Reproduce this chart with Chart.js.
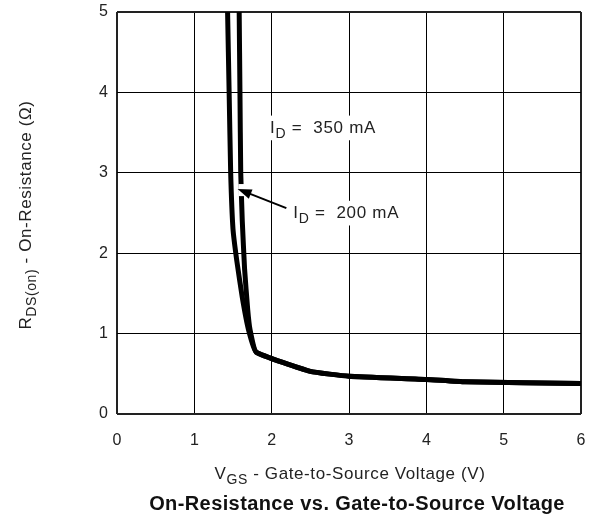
<!DOCTYPE html>
<html>
<head>
<meta charset="utf-8">
<script src="https://cdn.jsdelivr.net/npm/chart.js@4.4.1/dist/chart.umd.min.js"></script>
<style>
    html, body { margin: 0; padding: 0; background: #fff; }
    #wrap { width: 600px; height: 520px; }
</style>
</head>
<body>
<div id="wrap"><canvas id="rdsChart"></canvas></div>
<script>
// values
const xTicks = [0, 1, 2, 3, 4, 5, 6];
const yTicks = [0, 1, 2, 3, 4, 5];

const vgs200 = [1.43, 1.45, 1.47, 1.50, 1.55, 1.62, 1.70, 1.80, 2.50, 3.00, 4.00, 4.50, 6.00];
const rds200 = [5.00, 4.00, 3.00, 2.30, 1.90, 1.45, 1.05, 0.77, 0.53, 0.47, 0.43, 0.40, 0.38];

const vgs350 = [1.58, 1.59, 1.60, 1.62, 1.65, 1.69, 1.72, 1.80, 2.50, 3.00, 4.00, 4.50, 6.00];
const rds350 = [5.00, 4.00, 3.00, 2.40, 1.80, 1.30, 1.05, 0.77, 0.53, 0.47, 0.43, 0.40, 0.38];

const FONT = "'Liberation Sans', Arial, Helvetica, sans-serif";

function toPoints(xs, ys) {
    return xs.map((x, i) => ({ x: x, y: ys[i] }));
}

// draw text with subscript pieces: parts = [[text, isSub], ...]
function drawRich(ctx, parts, x, y, size, align, spacing, bg) {
    ctx.save();
    ctx.textBaseline = "alphabetic";
    ctx.textAlign = "left";
    ctx.letterSpacing = (spacing || 0) + "px";
    const subSize = Math.round(size * 0.8);
    let total = 0;
    parts.forEach(p => {
        ctx.font = (p[1] ? subSize : size) + "px " + FONT;
        total += ctx.measureText(p[0]).width;
    });
    let cx = align === "center" ? x - total / 2 : x;
    if (bg) {
        ctx.fillStyle = "#fff";
        ctx.fillRect(cx - 3, y - size, total + 6, size * 1.45);
    }
    ctx.fillStyle = "#222";
    parts.forEach(p => {
        ctx.font = (p[1] ? subSize : size) + "px " + FONT;
        ctx.fillText(p[0], cx, p[1] ? y + size * 0.3 : y);
        cx += ctx.measureText(p[0]).width;
    });
    ctx.restore();
}

const labelsPlugin = {
    id: "labels",
    afterDatasetsDraw(chart) {
        const ctx = chart.ctx;
        const xs = chart.scales.x, ys = chart.scales.y;

        // small white break in the 350 mA curve where the arrow points
        ctx.save();
        ctx.fillStyle = "#fff";
        ctx.fillRect(xs.getPixelForValue(1.57), ys.getPixelForValue(2.86),
            xs.getPixelForValue(1.66) - xs.getPixelForValue(1.57),
            ys.getPixelForValue(2.71) - ys.getPixelForValue(2.86));
        ctx.restore();

        // arrow to the 200 mA curve
        const tx = xs.getPixelForValue(2.19), ty = ys.getPixelForValue(2.56);
        const hx = xs.getPixelForValue(1.56), hy = ys.getPixelForValue(2.80);
        const ang = Math.atan2(hy - ty, hx - tx);
        ctx.save();
        ctx.strokeStyle = "#000";
        ctx.fillStyle = "#000";
        ctx.lineWidth = 2;
        ctx.beginPath();
        ctx.moveTo(tx, ty);
        ctx.lineTo(hx - 8 * Math.cos(ang), hy - 8 * Math.sin(ang));
        ctx.stroke();
        ctx.beginPath();
        ctx.moveTo(hx, hy);
        ctx.lineTo(hx - 14 * Math.cos(ang) + 5 * Math.sin(ang), hy - 14 * Math.sin(ang) - 5 * Math.cos(ang));
        ctx.lineTo(hx - 14 * Math.cos(ang) - 5 * Math.sin(ang), hy - 14 * Math.sin(ang) + 5 * Math.cos(ang));
        ctx.closePath();
        ctx.fill();
        ctx.restore();

        drawRich(ctx, [["I", false], ["D", true], [" =  350 mA", false]],
            xs.getPixelForValue(1.98), ys.getPixelForValue(3.50), 17, "left", 0.7, true);
        drawRich(ctx, [["I", false], ["D", true], [" =  200 mA", false]],
            xs.getPixelForValue(2.28), ys.getPixelForValue(2.44), 17, "left", 0.7, true);
    },
    afterDraw(chart) {
        const ctx = chart.ctx;
        // x axis title
        drawRich(ctx, [["V", false], ["GS", true], [" - Gate-to-Source Voltage (V)", false]],
            350, 479, 17, "center", 0.6);
        // y axis title, rotated
        ctx.save();
        ctx.translate(31, 215);
        ctx.rotate(-Math.PI / 2);
        drawRich(ctx, [["R", false], ["DS(on)", true], [" - On-Resistance (\u03A9)", false]],
            0, 0, 17, "center", 0.6);
        ctx.restore();
        // caption
        ctx.save();
        ctx.font = "bold 20px " + FONT;
        ctx.letterSpacing = "0.4px";
        ctx.fillStyle = "#111";
        ctx.textAlign = "center";
        ctx.textBaseline = "middle";
        ctx.fillText("On-Resistance vs. Gate-to-Source Voltage", 357, 504);
        ctx.restore();
    }
};

const edgeWidth = (c, max) => (c.tick.value === 0 || c.tick.value === max) ? 2 : 1;
const edgeColor = (c, max) => (c.tick.value === 0 || c.tick.value === max) ? "#222" : "#000";

new Chart(document.getElementById("rdsChart"), {
    type: "line",
    data: {
        datasets: [{
            label: "ID = 200 mA",
            data: toPoints(vgs200, rds200),
            borderColor: "#000",
            borderWidth: 5,
            pointRadius: 0,
            tension: 0.12,
            fill: false
        }, {
            label: "ID = 350 mA",
            data: toPoints(vgs350, rds350),
            borderColor: "#000",
            borderWidth: 5,
            pointRadius: 0,
            tension: 0.12,
            fill: false
        }]
    },
    options: {
        responsive: true,
        maintainAspectRatio: false,
        animation: false,
        layout: { padding: { left: 0, right: 19, top: 12, bottom: 0 } },
        plugins: {
            legend: { display: false },
            tooltip: { enabled: false }
        },
        scales: {
            x: {
                type: "linear",
                min: xTicks[0],
                max: xTicks[xTicks.length - 1],
                afterBuildTicks: s => { s.ticks = xTicks.map(v => ({ value: v })); },
                afterFit: s => { s.height = 106; s.paddingLeft = 0; s.paddingRight = 0; },
                border: { display: false },
                grid: {
                    color: c => edgeColor(c, 6),
                    lineWidth: c => edgeWidth(c, 6),
                    drawTicks: false
                },
                ticks: {
                    color: "#222",
                    padding: 17,
                    font: { family: FONT, size: 16 }
                }
            },
            y: {
                min: yTicks[0],
                max: yTicks[yTicks.length - 1],
                afterBuildTicks: s => { s.ticks = yTicks.map(v => ({ value: v })); },
                afterFit: s => { s.width = 117; s.paddingTop = 0; s.paddingBottom = 0; },
                border: { display: false },
                grid: {
                    color: c => edgeColor(c, 5),
                    lineWidth: c => edgeWidth(c, 5),
                    drawTicks: false
                },
                ticks: {
                    color: "#222",
                    padding: 9,
                    font: { family: FONT, size: 16 }
                }
            }
        }
    },
    plugins: [labelsPlugin]
});
</script>
</body>
</html>
